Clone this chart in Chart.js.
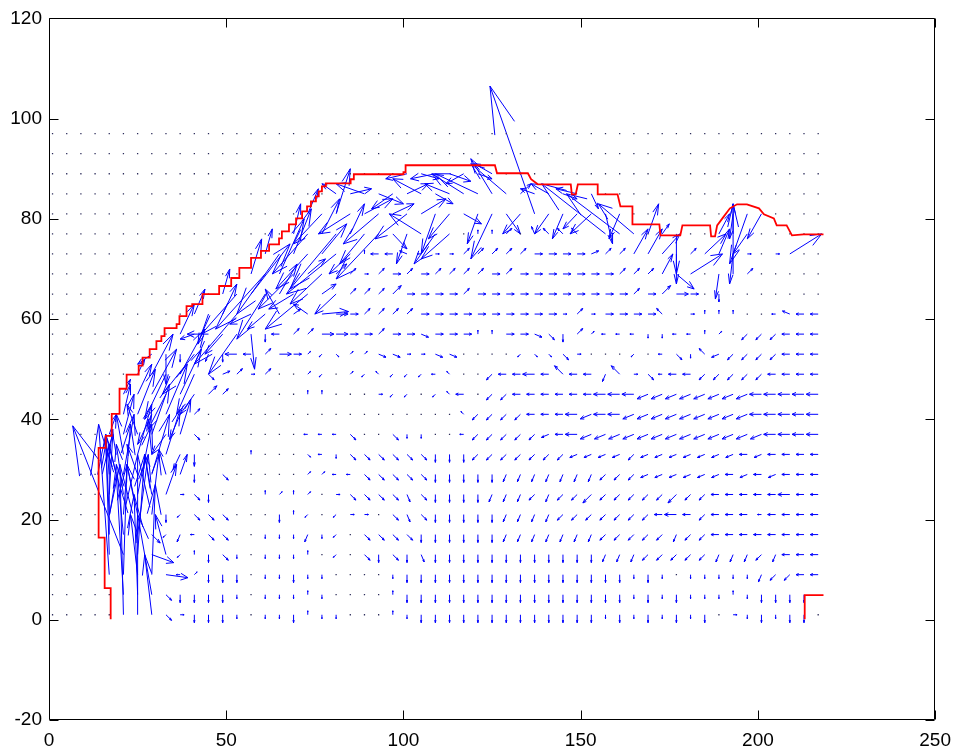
<!DOCTYPE html>
<html>
<head>
<meta charset="utf-8">
<title>Velocity field</title>
<script src="https://cdn.jsdelivr.net/npm/chart.js@4.4.1/dist/chart.umd.min.js"></script>
<style>
  html, body { margin: 0; padding: 0; background: #fff; }
  canvas { display: block; }
</style>
</head>
<body>
<canvas id="chart" width="960" height="755"></canvas>
<script>
// ---- axis ticks ----
const xTicks = [0, 50, 100, 150, 200, 250];
const yTicks = [-20, 0, 20, 40, 60, 80, 100, 120];

// ---- sampling grid of the velocity field ----
const gridX = [1,5,9,13,17,21,25,29,33,37,41,45,49,53,57,61,65,69,73,77,81,85,89,93,97,
  101,105,109,113,117,121,125,129,133,137,141,145,149,153,157,161,165,169,173,177,181,
  185,189,193,197,201,205,209,213,217];
const gridY = [97,93,89,85,81,77,73,69,65,61,57,53,49,45,41,37,33,29,25,21,17,13,9,5,1];

// Vector codes (u, v in axis units):
// '.' zero vector, digits = tiny arrows (8 directions),
// lower case = short arrows, upper case = long arrows (16 directions, a = east, e = north ...),
// '#' = vector listed in longArrows.
const ARROW_CODES = {
  '.': [0, 0],
  '0': [1.12, 0], '1': [0.79, 0.56], '2': [0, 0.8], '3': [-0.79, 0.56],
  '4': [-1.12, 0], '5': [-0.79, -0.56], '6': [0, -0.8], '7': [0.79, -0.56],
  a: [2.25, 0], b: [2.08, 0.61], c: [1.59, 1.12], d: [0.86, 1.47],
  e: [0, 1.59], f: [-0.86, 1.47], g: [-1.59, 1.12], h: [-2.08, 0.61],
  i: [-2.25, 0], j: [-2.08, -0.61], k: [-1.59, -1.12], l: [-0.86, -1.47],
  m: [0, -1.59], n: [0.86, -1.47], o: [1.59, -1.12], p: [2.08, -0.61],
  A: [3.37, 0], B: [3.11, 0.91], C: [2.38, 1.69], D: [1.29, 2.21],
  E: [0, 2.39], F: [-1.29, 2.21], G: [-2.38, 1.69], H: [-3.11, 0.91],
  I: [-3.37, 0], J: [-3.11, -0.91], K: [-2.38, -1.69], L: [-1.29, -2.21],
  M: [0, -2.39], N: [1.29, -2.21], O: [2.38, -1.69], P: [3.11, -0.91]
};

const D = n => '.'.repeat(n);
const H = n => '#'.repeat(n);

// one string per grid row, top (y = 97) to bottom (y = 1), one character per column
const fieldRows = [
  D(55),
  D(55),
  D(25) + H(7) + D(23),
  D(20) + H(19) + D(16),
  D(18) + H(23) + D(7) + H(3) + D(4),
  D(17) + H(12) + '.22c.fggg' + H(4) + '.' + H(2) + '..' + H(3) + D(5),
  D(15) + H(7) + '2iih400cccccaaaabcc' + H(4) + 'c' + H(3) + '0.0#..',
  D(14) + H(7) + 'c0cacaccccacaaaaaaaccc' + H(3) + '.##c' + D(5),
  D(12) + H(9) + 'cccCaaaacaaaaaaaaaaacaCAa' + '.m' + D(7),
  D(10) + H(10) + 'A' + 'accccaaaaaaaaaa' + '0c0aaaag.0222..4hii',
  D(9) + H(6) + 'miccAAaacaapaaa22aapomc1' + '444664421.kkkiii',
  D(7) + H(2) + 'm#lmIicAa' + '15711pp00pp....577o0.' + '..5.4o6gjkkkkiii',
  D(6) + H(5) + 'obc0c..' + '15.15355543..kiiIiGii' + 'lG0o4iikkkkkiiii',
  D(5) + H(6) + 'Cc.....' + '22...055.53i.kkiiiiii' + 'IIIJJJJJJJJIIIII',
  D(5) + H(5) + 'c.......' + '...........3kkkkiiiIJ' + 'IIJJJJJJJJJIIIII',
  D(4) + H(6) + 'o.......' + '444o..o66..4kkkkkjiIJ' + 'JJJJJJJJJJJJIIII',
  D(4) + H(6) + 'M...2...' + '746oooooommmkkkkkkkjj' + 'jjkjjjjjjjijiiii',
  D(4) + H(6) + 'm.o.....' + '1144ooooommmmmlllllll' + 'kkkjjjjjjijijiii',
  D(4) + H(5) + '0om...212' + '1.0oooonommmmlllklkkK' + 'kkkkkKkkiiiiiIii',
  D(4) + H(4) + 'm5ooo...m2' + '5.500.onommmmmllllkkk' + 'kkkkiIikiii4iiii',
  D(4) + H(3) + 'O5l4oo..666' + 'l65.oooommmmmmlllllll' + 'kkkkklkkiiiiiiii',
  D(4) + H(5) + '52mo6.666' + '2.5.omomnmmmmmmmmmmmm' + 'lllkkkkklllkliii',
  D(4) + H(5) + '41mmm.66m' + '66....6mmmmmmmmmmmmmm' + 'mm6m6.66666lkkii',
  D(5) + H(3) + 'ommmm6.666' + '26....2mmmmmmmmmmmmmm' + 'mm6m6m66626mmmm#',
  D(5) + H(3) + 'o0mmm6.66m' + '266...26mmmmmmmmmmmmm' + '6m6m6m6m.06m6mm.'
];

// large vectors near the walls: [x, y, u, v]
const longArrows = [
  [21,1,-1,30],[25,1,0,32],[29,1,-2,12],
  [21,5,-2,24],[25,5,-1,20],[29,5,-4,16],
  [17,9,-3,30],[21,9,1,22],[25,9,-2,12],[29,9,1,18],[33,9,6.2,-0.6],
  [17,13,-1,24],[21,13,-14.3,25.7],[25,13,2,20],[29,13,6.2,-1.6],[33,13,-3,8],
  [17,17,0,18],[21,17,-2,14],[25,17,3,16],
  [17,21,-1,14],[21,21,2,18],[25,21,-3,10],[29,21,2,12],
  [17,25,1,12],[21,25,-2,10],[25,25,4,14],[29,25,-2,8],[33,25,3,6],
  [17,29,-1,8],[21,29,3,12],[25,29,-3,6],[29,29,5,12],[33,29,-2,5],[37,29,2,4],
  [17,33,1,5],[21,33,-2,8],[25,33,4,10],[29,33,-1,7],[33,33,4,9],[37,33,-2,-3],
  [17,37,2,4],[21,37,3,8],[25,37,-3,6],[29,37,5,10],[33,37,-4,-4],[37,37,3,7],
  [21,41,2,6],[25,41,5,9],[29,41,-4,-6],[33,41,6,10],[37,41,-3,-5],
  [21,45,2,3],[25,45,4,6],[29,45,7,9],[33,45,-5,-7],[37,45,6,9],[41,45,-4,-4],
  [25,49,2,3],[29,49,6,8],[33,49,-6,-9],[37,49,7,9],[41,49,-5,-8],
  [29,53,-4,-2],[33,53,0,-6],[41,53,-9,-8],
  [37,57,4,6],[41,57,-4,-1],[45,57,-6,0],[49,57,-5,-4],[53,57,-8,-8],[57,57,1,-7],
  [41,61,3,5],[45,61,-3,-6],[49,61,4,6],[53,61,-12,-10],[57,61,-6,-2],[61,61,-5,-3],
  [65,61,-4,5],[69,61,2,1],[73,61,-4,2],[77,61,7.5,0.5],
  [49,65,2,5],[53,65,-10,-8],[57,65,11,10],[61,65,-8,-9],[65,65,5,6],[69,65,-7,-3],
  [73,65,-12,-7],[77,65,4,2],[81,65,-6,-4],
  [57,69,3,7],[61,69,-14,-11],[65,69,7,11],[69,69,-10,-7],[73,69,5,3],[77,69,-9,-6],[81,69,3,2],
  [61,73,2,5],[65,73,-12,-12],[69,73,5,9],[73,73,-9,-7],[77,73,7,6],[81,73,-14,-8],[85,73,-6,-4],
  [69,77,2,6],[73,77,-10,-8],[77,77,5,7],[81,77,-13,-11],[85,77,4,6],[89,77,-7,-6],
  [93,77,-12,-9],[97,77,4,-3],[101,77,-3,-6],[105,77,-9,4],[109,77,-6,-6],[113,77,-8,-5],
  [73,81,3,5],[77,81,-8,-6],[81,81,4,9],[85,81,-9,-4],[89,81,8,3],[93,81,-10,-6],
  [97,81,6,2],[101,81,-9,-5],[105,81,7,3],[109,81,-4,-8],[113,81,-6,-5],[117,81,5,-2],
  [121,81,-3,-6],[125,81,-6,-9],[129,81,4,-4],[133,81,-5,-4],[137,81,-12.6,25.5],
  [141,81,-4,-4],[145,81,-3,-5],[149,81,-4,-3],[153,81,-6,-4],[157,81,2,-6],[161,81,-3,-5],
  [81,85,-4,2],[85,85,6,1],[89,85,-8,2],[93,85,7,-2],[97,85,-6,-3],[101,85,6,2],
  [105,85,-8,3],[109,85,5,-2],[113,85,-7,2],[117,85,-9,4],[121,85,-12,4],[125,85,-6,7],
  [129,85,-10,6],[133,85,3,2],[137,85,-4,1],[141,85,-5,2],[145,85,4,-1],[149,85,-6,1],[153,85,2,-3],
  [101,89,-6,-1],[105,89,5,-1],[109,89,-7,-1],[113,89,6,-1.5],[117,89,-5,-2],[121,89,4,-1],[125,89,-5,2],
  [157,77,-18,10],[161,77,-15,8],[165,77,-10,6],[169,77,3,6],[173,77,2,2],[177,77,0,-8],
  [189,77,3,4],[193,77,0,6],[197,77,-4,-4],
  [165,73,4,5],[169,73,4,5],[173,73,5,4],[177,73,0,-6],[185,73,6,4],[189,73,3,5],
  [193,73,-1,-6],[209,73,9,4],
  [173,69,3,4],[177,69,5,-3],[181,69,9,4],[189,69,-1,-5],[193,69,0,14],
  [193,81,-1,-5],[197,81,-5,-10],[201,81,-4,-5]
];

// ---- wall outline (stair-stepped mask edge) ----
const boundaryX = [17.4,17.4,15.7,15.7,14.0,14.0,16.0,16.0,17.7,17.7,19.9,19.9,21.9,21.9,25.3,25.3,
  26.4,26.4,28.4,28.4,30.3,30.3,31.7,31.7,32.6,32.6,36.0,36.0,36.8,36.8,38.8,38.8,40.4,40.4,
  43.3,43.3,48.0,48.0,51.4,51.4,53.7,53.7,57.0,57.0,59.8,59.8,62.1,62.1,64.9,64.9,65.7,65.7,
  67.7,67.7,69.7,69.7,71.4,71.4,72.8,72.8,73.9,73.9,75.3,75.3,76.1,76.1,77.0,77.0,78.1,78.1,
  85.1,85.1,86.0,86.0,100.0,100.0,100.6,100.6,
  125.8,126.4,135.1,136.0,137.9,147.2,147.5,148.6,149.2,154.8,154.8,
  160.4,161.2,164.6,164.6,172.2,172.5,178.1,178.7,186.5,186.8,187.9,188.5,190.4,192.1,194.1,
  196.9,200.3,201.7,204.5,205.3,208.1,209.6,212.9,218.5];
const boundaryY = [0.1,6.3,6.3,16.4,16.4,34.3,34.3,36.7,36.7,41.1,41.1,46.1,46.1,48.9,48.9,50.7,
  50.7,52.3,52.3,54.0,54.0,55.6,55.6,56.6,56.6,58.2,58.2,59.0,59.0,60.6,60.6,62.6,62.6,63.0,
  63.0,65.0,65.0,66.6,66.6,68.2,68.2,70.2,70.2,72.2,72.2,73.6,73.6,74.9,74.9,76.1,76.1,77.5,
  77.5,78.9,78.9,80.1,80.1,81.5,81.5,82.5,82.5,83.5,83.5,84.5,84.5,85.5,85.5,86.5,86.5,87.1,
  87.1,87.9,87.9,88.9,88.9,89.3,89.3,90.7,
  90.7,89.1,89.1,87.9,86.9,86.9,84.9,84.9,86.9,86.9,84.9,
  84.9,82.5,82.5,78.9,78.9,76.7,76.7,78.7,78.7,76.5,76.5,78.7,80.5,82.1,82.9,
  82.9,82.1,80.9,80.1,78.7,78.7,76.7,76.9,76.9];
const outletX = [213.2, 213.2, 218.5];
const outletY = [0.1, 4.9, 4.9];

// ---- decode the field ----
const arrowList = [];
const zeroPoints = [];
fieldRows.forEach((row, r) => {
  for (let c = 0; c < gridX.length && c < row.length; c++) {
    const ch = row[c];
    if (ch === '#') continue;
    const vec = ARROW_CODES[ch];
    if (!vec) continue;
    if (vec[0] === 0 && vec[1] === 0) zeroPoints.push({ x: gridX[c], y: gridY[r] });
    else arrowList.push([gridX[c], gridY[r], vec[0], vec[1]]);
  }
});
longArrows.forEach(a => arrowList.push(a));

// quiver-style arrows: shaft plus two head strokes
const HEAD = 0.33;
const quiverPlugin = {
  id: 'quiver',
  beforeDatasetsDraw(chart) {
    const { ctx, chartArea: a, scales: { x: sx, y: sy } } = chart;
    const px = v => sx.getPixelForValue(v);
    const py = v => sy.getPixelForValue(v);
    ctx.save();
    ctx.beginPath();
    ctx.rect(a.left, a.top, a.right - a.left, a.bottom - a.top);
    ctx.clip();
    ctx.strokeStyle = '#0000ff';
    ctx.lineWidth = 1;
    ctx.beginPath();
    for (const [x, y, u, v] of arrowList) {
      const tx = x + u, ty = y + v;
      const w1x = tx - HEAD * (u + HEAD * v), w1y = ty - HEAD * (v - HEAD * u);
      const w2x = tx - HEAD * (u - HEAD * v), w2y = ty - HEAD * (v + HEAD * u);
      ctx.moveTo(px(x), py(y));
      ctx.lineTo(px(tx), py(ty));
      ctx.moveTo(px(w1x), py(w1y));
      ctx.lineTo(px(tx), py(ty));
      ctx.lineTo(px(w2x), py(w2y));
    }
    ctx.stroke();
    ctx.restore();
  }
};

// box around the plot with inward ticks on all four sides
const framePlugin = {
  id: 'frame',
  afterDraw(chart) {
    const { ctx, chartArea: a, scales: { x: sx, y: sy } } = chart;
    const L = Math.round(a.left) + 0.5, R = Math.round(a.right) - 0.5;
    const T = Math.round(a.top) + 0.5, B = Math.round(a.bottom) - 0.5;
    const len = 9;
    ctx.save();
    ctx.strokeStyle = '#000';
    ctx.lineWidth = 1;
    ctx.beginPath();
    ctx.rect(L, T, R - L, B - T);
    xTicks.forEach(v => {
      const p = Math.round(sx.getPixelForValue(v)) + 0.5;
      ctx.moveTo(p, B); ctx.lineTo(p, B - len);
      ctx.moveTo(p, T); ctx.lineTo(p, T + len);
    });
    yTicks.forEach(v => {
      const p = Math.round(sy.getPixelForValue(v)) + 0.5;
      ctx.moveTo(L, p); ctx.lineTo(L + len, p);
      ctx.moveTo(R, p); ctx.lineTo(R - len, p);
    });
    ctx.stroke();
    ctx.restore();
  }
};

const tickFont = { family: "'Liberation Sans', Arial, Helvetica, sans-serif", size: 19 };

new Chart(document.getElementById('chart'), {
  type: 'scatter',
  data: {
    datasets: [
      {
        label: 'wall',
        data: boundaryX.map((x, k) => ({ x, y: boundaryY[k] })),
        showLine: true,
        borderColor: '#ff0000',
        borderWidth: 1.8,
        pointRadius: 0,
        fill: false,
        order: 0
      },
      {
        label: 'outlet',
        data: outletX.map((x, k) => ({ x, y: outletY[k] })),
        showLine: true,
        borderColor: '#ff0000',
        borderWidth: 1.8,
        pointRadius: 0,
        fill: false,
        order: 0
      },
      {
        label: 'zero velocity',
        data: zeroPoints,
        showLine: false,
        pointStyle: 'rect',
        pointRadius: 0.9,
        pointBorderWidth: 0,
        pointBackgroundColor: '#2e2e5c',
        order: 1
      }
    ]
  },
  options: {
    responsive: false,
    devicePixelRatio: 1,
    animation: false,
    events: [],
    layout: { padding: { left: 0, top: 17, right: 21, bottom: 0 } },
    plugins: { legend: { display: false }, tooltip: { enabled: false } },
    scales: {
      x: {
        type: 'linear',
        min: 0, max: 250,
        afterBuildTicks(scale) { scale.ticks = xTicks.map(v => ({ value: v })); },
        ticks: { color: '#000', font: tickFont, padding: 9, maxRotation: 0 },
        grid: { display: false, drawTicks: false },
        border: { display: false },
        afterFit(scale) { scale.height = 35; }
      },
      y: {
        type: 'linear',
        min: -20, max: 120,
        afterBuildTicks(scale) { scale.ticks = yTicks.map(v => ({ value: v })); },
        ticks: { color: '#000', font: tickFont, padding: 7 },
        grid: { display: false, drawTicks: false },
        border: { display: false },
        afterFit(scale) { scale.width = 49; }
      }
    }
  },
  plugins: [quiverPlugin, framePlugin]
});
</script>
</body>
</html>
